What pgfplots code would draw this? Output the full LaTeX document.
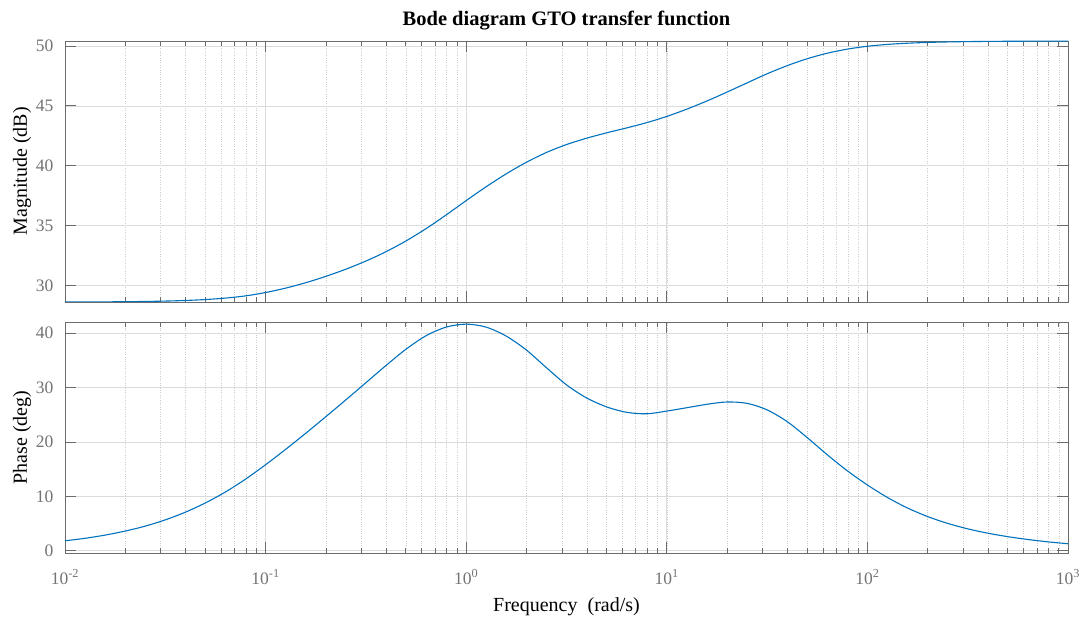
\documentclass[border=0pt]{standalone}
\usepackage{fontspec}
\setmainfont{Liberation Serif}
\usepackage{pgfplots}
\pgfplotsset{compat=1.18}
\usepackage{pgfplotstable}
\definecolor{mblue}{rgb}{0,0.447,0.741}
\definecolor{axgray}{gray}{0.42}
\definecolor{tickgray}{gray}{0.45}
\definecolor{gridgray}{gray}{0.86}
\definecolor{mgridgray}{gray}{0.80}

% frequency (rad/s), magnitude (dB)
\pgfplotstableread{
w M
0.01 28.62
0.012589 28.624
0.015849 28.632
0.019953 28.645
0.025119 28.665
0.031623 28.697
0.039811 28.747
0.050119 28.825
0.063096 28.946
0.079433 29.13
0.1 29.41
0.12589 29.78
0.15849 30.23
0.19953 30.76
0.25119 31.36
0.31623 32.04
0.39811 32.82
0.50119 33.72
0.63096 34.75
0.79433 35.89
1.0 37.09
1.2589 38.25
1.5849 39.33
1.9953 40.29
2.5119 41.11
3.1623 41.77
3.9811 42.30
5.0119 42.75
6.3096 43.16
7.9433 43.60
10 44.12
12.589 44.73
15.849 45.41
19.953 46.15
25.119 46.92
31.623 47.68
39.811 48.36
50.119 48.94
63.096 49.40
79.433 49.74
100 49.98
125.89 50.135
158.49 50.235
199.53 50.30
251.19 50.342
316.23 50.369
398.11 50.386
501.19 50.397
630.96 50.404
794.33 50.409
1000 50.412
}\magtable

% frequency (rad/s), phase (deg)
\pgfplotstableread{
w P
0.01 1.84
0.012589 2.30
0.015849 2.89
0.019953 3.63
0.025119 4.54
0.031623 5.69
0.039811 7.10
0.050119 8.80
0.063096 10.82
0.079433 13.17
0.1 15.82
0.12589 18.65
0.15849 21.60
0.19953 24.64
0.25119 27.74
0.31623 30.89
0.39811 34.05
0.50119 37.05
0.63096 39.53
0.79433 41.11
1.0 41.66
1.2589 41.10
1.5849 39.45
1.9953 36.90
2.5119 33.65
3.1623 30.50
3.9811 28.10
5.0119 26.45
6.3096 25.45
7.9433 25.18
10 25.68
12.589 26.30
15.849 26.93
19.953 27.35
25.119 27.10
31.623 25.90
39.811 23.75
50.119 20.80
63.096 17.65
79.433 14.70
100 12.10
125.89 9.80
158.49 7.87
199.53 6.30
251.19 5.04
316.23 4.04
398.11 3.24
501.19 2.60
630.96 2.08
794.33 1.65
1000 1.30
}\phtable

\pgfplotsset{
  every axis/.append style={
  axis line style={axgray, line width=0.8bp},
  tick style={axgray, line width=0.8bp},
  major tick length=11bp, minor tick length=5bp,
  tick align=inside,
  major grid style={gridgray, line width=0.7bp},
  minor grid style={mgridgray, dotted, line width=0.6bp},
  },
  every tick label/.append style={font=\fontsize{17.5bp}{20bp}\selectfont, text=tickgray},
  every y tick label/.append style={anchor=east, inner sep=0pt, xshift=-11.5bp},
  every x tick label/.append style={anchor=base, inner sep=0pt, yshift=-31bp},
  every axis label/.append style={font=\fontsize{20bp}{24bp}\selectfont, text=black},
  every axis y label/.style={at={(axis description cs:0,0.5)}, xshift=-43bp, rotate=90, anchor=center},
}

\begin{document}
\begin{tikzpicture}
\useasboundingbox (0,0) rectangle (1085bp,619bp);
\begin{axis}[scale only axis, width=1003bp, height=261bp, anchor=south west, at={(65bp,317bp)},
  xmode=log, xmin=0.01, xmax=1000,
  xtick={0.01,0.1,1,10,100,1000}, xticklabels={},
  minor y tick num=0,
  xtick pos=both, ytick pos=both,
  xmajorgrids=true, xminorgrids=true, ymajorgrids=true,
  /pgf/number format/assume math mode=true,
  ymin=28.62, ymax=50.42, ytick={30,35,40,45,50},
  ylabel={Magnitude (dB)},
  title={Bode diagram GTO transfer function},
  title style={at={(axis description cs:0.5,1)}, anchor=base, yshift=10bp, font=\bfseries\fontsize{20.5bp}{24bp}\selectfont},
]
\addplot[mblue, line width=1.1bp, smooth] table[x=w, y=M] {\magtable};
\end{axis}
\begin{axis}[scale only axis, width=1003bp, height=231bp, anchor=south west, at={(65bp,66bp)},
  xmode=log, xmin=0.01, xmax=1000,
  xtick={0.01,0.1,1,10,100,1000},
  xticklabels={10\textsuperscript{-2},10\textsuperscript{-1},10\textsuperscript{0},10\textsuperscript{1},10\textsuperscript{2},10\textsuperscript{3}},
  minor y tick num=0,
  xtick pos=both, ytick pos=both,
  xmajorgrids=true, xminorgrids=true, ymajorgrids=true,
  /pgf/number format/assume math mode=true,
  ymin=-0.4, ymax=42.05, ytick={0,10,20,30,40},
  ylabel={Phase (deg)},
  xlabel={Frequency\ \ (rad/s)},
  xlabel style={at={(axis description cs:0.5,0)}, anchor=base, yshift=-58.7bp},
]
\addplot[mblue, line width=1.1bp, smooth] table[x=w, y=P] {\phtable};
\end{axis}
\end{tikzpicture}
\end{document}
